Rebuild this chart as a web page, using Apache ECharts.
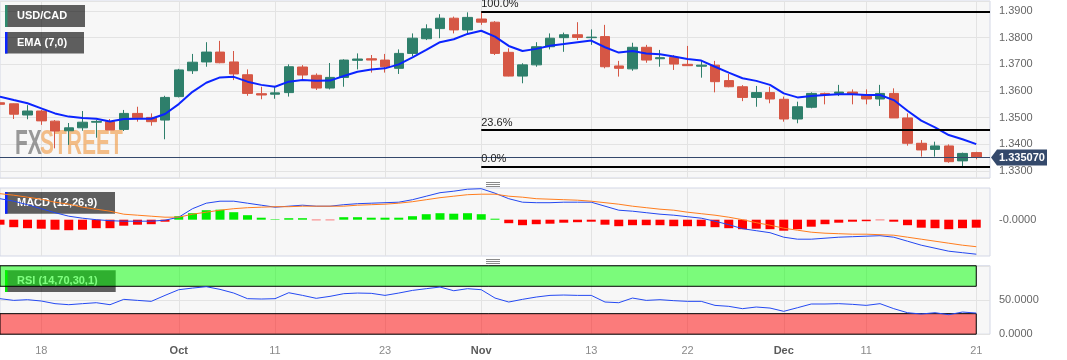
<!DOCTYPE html>
<html><head><meta charset="utf-8">
<script src="https://cdn.jsdelivr.net/npm/echarts@6/dist/echarts.min.js"></script>
<style>html,body{margin:0;padding:0;background:#fff;}#c{width:1067px;height:360px;}</style>
</head><body><div id="c"></div>
<script>
const dates = ['2023-09-13','2023-09-14','2023-09-15','2023-09-18','2023-09-19','2023-09-20','2023-09-21','2023-09-22','2023-09-25','2023-09-26','2023-09-27','2023-09-28','2023-09-29','2023-10-02','2023-10-03','2023-10-04','2023-10-05','2023-10-06','2023-10-09','2023-10-10','2023-10-11','2023-10-12','2023-10-13','2023-10-16','2023-10-17','2023-10-18','2023-10-19','2023-10-20','2023-10-23','2023-10-24','2023-10-25','2023-10-26','2023-10-27','2023-10-30','2023-10-31','2023-11-01','2023-11-02','2023-11-03','2023-11-06','2023-11-07','2023-11-08','2023-11-09','2023-11-10','2023-11-13','2023-11-14','2023-11-15','2023-11-16','2023-11-17','2023-11-20','2023-11-21','2023-11-22','2023-11-23','2023-11-24','2023-11-27','2023-11-28','2023-11-29','2023-11-30','2023-12-01','2023-12-04','2023-12-05','2023-12-06','2023-12-07','2023-12-08','2023-12-11','2023-12-12','2023-12-13','2023-12-14','2023-12-15','2023-12-18','2023-12-19','2023-12-20','2023-12-21'];

const opens = [1.3556,1.3552,1.3510,1.3525,1.3487,1.3451,1.3462,1.3483,1.3485,1.3456,
1.3516,1.3501,1.3491,1.3579,1.3676,1.3709,1.3746,1.3709,1.3661,1.3590,
1.3588,1.3594,1.3690,1.3659,1.3611,1.3651,1.3715,1.3721,1.3716,1.3685,
1.3741,1.3796,1.3834,1.3873,1.3829,1.3870,1.3858,1.3745,1.3656,1.3698,
1.3766,1.3800,1.3811,1.3800,1.3804,1.3694,1.3683,1.3764,1.3721,1.3726,
1.3700,1.3693,1.3697,1.3639,1.3616,1.3576,1.3594,1.3569,1.3495,1.3539,
1.3591,1.3591,1.3596,1.3585,1.3570,1.3591,1.3499,1.3404,1.3381,1.3394,
1.3338,1.3369];
const closes = [1.3550,1.3513,1.3525,1.3488,1.3450,1.3462,1.3483,1.3486,1.3454,1.3516,
1.3500,1.3485,1.3576,1.3679,1.3708,1.3746,1.3706,1.3664,1.3591,1.3585,
1.3593,1.3691,1.3660,1.3611,1.3651,1.3716,1.3720,1.3716,1.3691,1.3741,
1.3798,1.3833,1.3873,1.3829,1.3876,1.3858,1.3741,1.3656,1.3698,1.3766,
1.3798,1.3811,1.3801,1.3802,1.3691,1.3685,1.3764,1.3716,1.3725,1.3701,
1.3695,1.3697,1.3635,1.3616,1.3576,1.3594,1.3570,1.3495,1.3541,1.3591,
1.3586,1.3596,1.3589,1.3570,1.3591,1.3499,1.3404,1.3379,1.3394,1.3335,
1.3366,1.33507];
const lows = [1.3521,1.3495,1.3494,1.3473,1.3385,1.3398,1.3451,1.3425,1.3453,1.3450,
1.3485,1.3470,1.3419,1.3576,1.3664,1.3691,1.3704,1.3641,1.3582,1.3569,
1.3571,1.3579,1.3644,1.3604,1.3606,1.3616,1.3681,1.3669,1.3669,1.3664,
1.3731,1.3791,1.3798,1.3816,1.3816,1.3848,1.3735,1.3655,1.3629,1.3691,
1.3756,1.3747,1.3791,1.3773,1.3685,1.3654,1.3676,1.3706,1.3691,1.3679,
1.3694,1.3650,1.3595,1.3614,1.3562,1.3541,1.3554,1.3485,1.3479,1.3535,
1.3550,1.3581,1.3550,1.3550,1.3544,1.3499,1.3395,1.3354,1.3354,1.3331,
1.3312,1.3344];
const highs = [1.3570,1.3553,1.3547,1.3529,1.3491,1.3480,1.3525,1.3491,1.3495,1.3529,
1.3541,1.3516,1.3582,1.3683,1.3739,1.3783,1.3788,1.3750,1.3681,1.3616,
1.3619,1.3700,1.3697,1.3666,1.3705,1.3719,1.3741,1.3735,1.3739,1.3756,
1.3816,1.3850,1.3888,1.3879,1.3895,1.3899,1.3862,1.3760,1.3704,1.3783,
1.3816,1.3819,1.3858,1.3831,1.3848,1.3713,1.3781,1.3773,1.3754,1.3735,
1.3769,1.3716,1.3713,1.3664,1.3622,1.3619,1.3616,1.3579,1.3560,1.3595,
1.3594,1.3623,1.3606,1.3606,1.3623,1.3610,1.3516,1.3416,1.3410,1.3400,
1.3369,1.3372];
const ema7 = [1.3579,1.3566,1.3554,1.3535,1.3516,1.3504,1.3499,1.3496,1.3486,1.3495,
1.3496,1.3496,1.3514,1.3551,1.3597,1.3631,1.3651,1.3653,1.3635,1.3623,
1.3616,1.3635,1.3641,1.3638,1.3639,1.3656,1.3672,1.3681,1.3685,1.3700,
1.3726,1.3754,1.3783,1.3794,1.3814,1.3826,1.3804,1.3769,1.3750,1.3758,
1.3770,1.3776,1.3783,1.3789,1.3764,1.3744,1.3750,1.3741,1.3738,1.3729,
1.3720,1.3714,1.3691,1.3669,1.3648,1.3638,1.3623,1.3591,1.3576,1.3581,
1.3585,1.3588,1.3588,1.3585,1.3585,1.3566,1.3526,1.3489,1.3464,1.3435,
1.3419,1.3401];
const macdLine = [0.0042,0.0037,0.0030,0.0022,0.0014,0.0007,0.0003,0.0000,-0.0002,-0.0003,
-0.0003,-0.0003,-0.0001,0.0005,0.0022,0.0033,0.0037,0.0037,0.0033,0.0029,
0.0025,0.0027,0.0029,0.0027,0.0027,0.0030,0.0032,0.0033,0.0034,0.0035,
0.0040,0.0047,0.0054,0.0057,0.0061,0.0062,0.0053,0.0042,0.0035,0.0034,
0.0034,0.0035,0.0035,0.0035,0.0027,0.0019,0.0017,0.0014,0.0011,0.0009,
0.0006,0.0003,-0.0003,-0.0010,-0.0018,-0.0022,-0.0026,-0.0035,-0.0039,-0.0039,
-0.0037,-0.0035,-0.0034,-0.0033,-0.0032,-0.0035,-0.0043,-0.0051,-0.0057,-0.0063,
-0.0066,-0.0069];
const signalLine = [0.0052,0.0049,0.0045,0.0041,0.0035,0.0031,0.0025,0.0021,0.0017,0.0011,
0.0009,0.0007,0.0005,0.0005,0.0011,0.0015,0.0019,0.0022,0.0024,0.0025,
0.0026,0.0026,0.0027,0.0027,0.0027,0.0027,0.0029,0.0030,0.0031,0.0033,
0.0036,0.0040,0.0044,0.0047,0.0050,0.0051,0.0051,0.0047,0.0045,0.0042,
0.0041,0.0040,0.0039,0.0037,0.0034,0.0031,0.0027,0.0024,0.0021,0.0019,
0.0015,0.0012,0.0009,0.0005,0.0000,-0.0006,-0.0011,-0.0017,-0.0021,-0.0025,
-0.0027,-0.0028,-0.0029,-0.0029,-0.0030,-0.0031,-0.0035,-0.0039,-0.0043,-0.0047,
-0.0051,-0.0054];
const macdHist = [-0.0010,-0.0015,-0.0017,-0.0018,-0.0020,-0.0021,-0.0020,-0.0017,-0.0017,-0.0012,
-0.0010,-0.0009,-0.0004,0.0007,0.0013,0.0019,0.0020,0.0015,0.0009,0.0004,
0.0001,0.0003,0.0003,-0.0001,-0.0001,0.0005,0.0005,0.0004,0.0004,0.0004,
0.0007,0.0011,0.0013,0.0012,0.0013,0.0011,0.0002,-0.0007,-0.0011,-0.0009,
-0.0008,-0.0006,-0.0005,-0.0004,-0.0010,-0.0013,-0.0011,-0.0011,-0.0011,-0.0013,
-0.0013,-0.0013,-0.0015,-0.0017,-0.0019,-0.0018,-0.0019,-0.0022,-0.0019,-0.0014,
-0.0009,-0.0006,-0.0004,-0.0003,-0.0001,-0.0004,-0.0011,-0.0016,-0.0017,-0.0019,
-0.0017,-0.0016];
const rsi14 = [51.9,49.4,50.4,48.5,44.6,43.1,44.6,46.0,43.1,50.9,
49.4,48.0,56.7,65.0,67.4,69.4,65.5,60.1,51.9,51.4,
51.9,60.6,56.7,52.4,55.3,59.2,60.1,59.7,56.7,60.1,
64.0,66.5,68.9,63.5,66.5,65.0,52.8,47.0,50.9,54.3,
56.7,57.2,56.7,56.7,47.0,46.0,52.8,49.4,50.4,49.0,
48.0,48.0,42.1,40.7,37.3,39.7,38.2,33.4,38.7,44.1,
44.1,44.6,43.6,42.1,44.6,37.3,31.4,29.5,31.4,28.5,
32.4,30.9];

const tickDates = ['2023-09-18','2023-10-02','2023-10-11','2023-10-23','2023-11-01','2023-11-13','2023-11-22','2023-12-01','2023-12-11','2023-12-21'];
const tickLabels = ['18','Oct','11','23','Nov','13','22','Dec','11','21'];
const monthLabels = ['Oct','Nov','Dec'];

const fibHigh = 1.3899;
const fibLow = 1.3316;
const fibRatios = [1.0, 0.236, 0.0];
const fibStartDate = '2023-11-01';
const rsiOverbought = 70;
const rsiOversold = 30;

const FONT = '"Liberation Sans", Arial, sans-serif';
const chart = echarts.init(document.getElementById('c'), null, {renderer: 'canvas'});
const xCats = dates.concat(['']);
const tickIdx = tickDates.map(d => dates.indexOf(d));
const isTick = i => tickIdx.indexOf(i) >= 0;
const candleData = dates.map((d, i) => [opens[i], closes[i], lows[i], highs[i]]);
const lastPrice = closes[closes.length - 1];
const fibStart = dates.indexOf(fibStartDate);
const gridBase = {left: 0, width: 990, show: true, backgroundColor: '#f7f7f7', borderColor: '#d3d7e6', borderWidth: 1, containLabel: false, outerBoundsMode: 'none'};
const splitColor = '#e3e3e3';

function xAxisFor(gridIndex, showLabels) {
  return {
    type: 'category', gridIndex: gridIndex, data: xCats, boundaryGap: false,
    axisLine: {show: false}, axisTick: {show: false},
    axisLabel: showLabels ? {
      show: true, interval: (i) => isTick(i), margin: 11,
      formatter: (v) => {
        const k = tickDates.indexOf(v);
        if (k < 0) return '';
        const t = tickLabels[k];
        return monthLabels.indexOf(t) >= 0 ? '{m|' + t + '}' : '{d|' + t + '}';
      },
      rich: {
        m: {color: '#5a5a5a', fontSize: 11, fontWeight: 'bold', fontFamily: FONT},
        d: {color: '#8a8a8a', fontSize: 11, fontFamily: FONT}
      }
    } : {show: false},
    splitLine: {show: true, interval: (i) => isTick(i), lineStyle: {color: splitColor, width: 1}}
  };
}

const option = {
  animation: false,
  textStyle: {fontFamily: FONT},
  grid: [
    Object.assign({}, gridBase, {top: 1, height: 177}),
    Object.assign({}, gridBase, {top: 188, height: 68}),
    Object.assign({}, gridBase, {top: 265.75, height: 68.45})
  ],
  xAxis: [xAxisFor(0, false), xAxisFor(1, false), xAxisFor(2, true)],
  yAxis: [
    {type: 'value', gridIndex: 0, position: 'right', min: 1.32738, max: 1.39375, splitNumber: 6,
     axisLine: {show: false}, axisTick: {show: false},
     axisLabel: {color: '#666', fontSize: 11, fontFamily: FONT, margin: 9, showMinLabel: false, showMaxLabel: false,
       formatter: v => v.toFixed(4)},
     splitLine: {show: true, lineStyle: {color: splitColor}}},
    {type: 'value', gridIndex: 1, position: 'right', min: -0.00726, max: 0.00634,
     axisLine: {show: false}, axisTick: {show: false},
     axisLabel: {color: '#666', fontSize: 11, fontFamily: FONT, margin: 9, showMinLabel: false, showMaxLabel: false,
       formatter: v => (Math.abs(v) < 1e-9 ? '-0.0000' : '')},
     splitLine: {show: false}},
    {type: 'value', gridIndex: 2, position: 'right', min: 0, max: 100, interval: 50,
     axisLine: {show: false}, axisTick: {show: false},
     axisLabel: {color: '#666', fontSize: 11, fontFamily: FONT, margin: 9,
       formatter: v => (v === 50 ? '50.0000' : (v === 0 ? '0.0000' : ''))},
     splitLine: {show: true, lineStyle: {color: splitColor}}}
  ],
  series: [
    {type: 'candlestick', name: 'USD/CAD', xAxisIndex: 0, yAxisIndex: 0, data: candleData, barWidth: 10,
     itemStyle: {color: '#2e7f6b', color0: '#d65745', borderColor: '#2e7f6b', borderColor0: '#d65745', borderWidth: 1},
     markLine: {silent: true, symbol: ['none', 'none'], label: {show: false}, animation: false, precision: 6,
       lineStyle: {color: '#34486b', width: 1, type: 'solid'}, data: [{yAxis: lastPrice}]}},
    {type: 'line', name: 'EMA', xAxisIndex: 0, yAxisIndex: 0, data: ema7, symbol: 'none', z: 3,
     lineStyle: {color: '#0b24ff', width: 2}, itemStyle: {color: '#0b24ff'},
     markLine: {silent: true, symbol: ['none', 'none'], animation: false, precision: 6,
       lineStyle: {color: '#000', width: 2, type: 'solid'},
       label: {show: true, position: 'insideStartTop', color: '#222', fontSize: 11, fontFamily: FONT, distance: [0, 2]},
       data: fibRatios.map(r => {
         const lv = fibLow + r * (fibHigh - fibLow);
         return [{coord: [fibStart, lv], label: {formatter: (r * 100).toFixed(1) + '%'}}, {coord: [xCats.length - 1, lv]}];
       })}},
    {type: 'bar', name: 'Hist', xAxisIndex: 1, yAxisIndex: 1, data: macdHist, barWidth: 9,
     itemStyle: {color: p => (p.value >= 0 ? '#00ee00' : '#ff0000')}},
    {type: 'line', name: 'MACD', xAxisIndex: 1, yAxisIndex: 1, data: macdLine, symbol: 'none',
     lineStyle: {color: '#2347f0', width: 1}},
    {type: 'line', name: 'Signal', xAxisIndex: 1, yAxisIndex: 1, data: signalLine, symbol: 'none',
     lineStyle: {color: '#ff7d1e', width: 1}},
    {type: 'line', name: 'RSI', xAxisIndex: 2, yAxisIndex: 2, data: rsi14, symbol: 'none', z: 3,
     lineStyle: {color: '#2449f2', width: 1},
     markArea: {silent: true, animation: false,
       itemStyle: {borderColor: '#000', borderWidth: 1},
       data: [
         [{xAxis: dates[0], yAxis: rsiOverbought, itemStyle: {color: 'rgba(0,255,0,0.5)', borderColor: '#000', borderWidth: 1}}, {xAxis: dates[dates.length - 1], yAxis: 100}],
         [{xAxis: dates[0], yAxis: 0, itemStyle: {color: 'rgba(255,0,0,0.5)', borderColor: '#000', borderWidth: 1}}, {xAxis: dates[dates.length - 1], yAxis: rsiOversold}]
       ]}}
  ]
};
chart.setOption(option);

const py = chart.convertToPixel({yAxisIndex: 0}, lastPrice);
function legendBox(x, y, w, h, accent, text) {
  return {type: 'group', z: 20, children: [
    {type: 'rect', shape: {x: x, y: y, width: w, height: h}, style: {fill: 'rgba(0,0,0,0.62)'}},
    {type: 'rect', shape: {x: x, y: y, width: 2.5, height: h}, style: {fill: accent}},
    {type: 'text', x: x + 12, y: y + h / 2, style: {text: text, fill: '#fff', font: 'bold 11px ' + FONT, verticalAlign: 'middle', align: 'left'}}
  ]};
}
function handle(y) {
  return [0, 2, 4].map(d => ({type: 'rect', z: 20, shape: {x: 486, y: y + d, width: 14, height: 1}, style: {fill: '#8a8a8a'}}));
}
const graphics = [
  {type: 'text', z: 1, x: 15, y: 144.5, scaleX: 0.6, style: {text: 'FX', fill: 'rgba(120,120,120,0.75)', font: 'bold 35px ' + FONT, verticalAlign: 'middle'}},
  {type: 'text', z: 1, x: 40, y: 144.5, scaleX: 0.6, style: {text: 'STREET', fill: 'rgba(240,150,60,0.6)', font: 'bold 35px ' + FONT, verticalAlign: 'middle'}},
  legendBox(5, 5, 80, 22, '#2e8b6e', 'USD/CAD'),
  legendBox(5, 32, 79, 21.5, '#0b24ff', 'EMA (7,0)'),
  legendBox(5, 192, 110, 21.7, '#0b24ff', 'MACD (12,26,9)'),
  legendBox(5, 270.3, 110.7, 21.7, '#00e600', 'RSI (14,70,30,1)'),
  {type: 'polygon', z: 20, shape: {points: [[991, py], [997, py - 8], [1047, py - 8], [1047, py + 8], [997, py + 8]]}, style: {fill: '#34496b'}},
  {type: 'text', z: 21, x: 999, y: py, style: {text: lastPrice.toFixed(6), fill: '#fff', font: 'bold 11px ' + FONT, verticalAlign: 'middle'}}
].concat(handle(182)).concat(handle(259));
chart.setOption({graphic: graphics});
</script></body></html>
